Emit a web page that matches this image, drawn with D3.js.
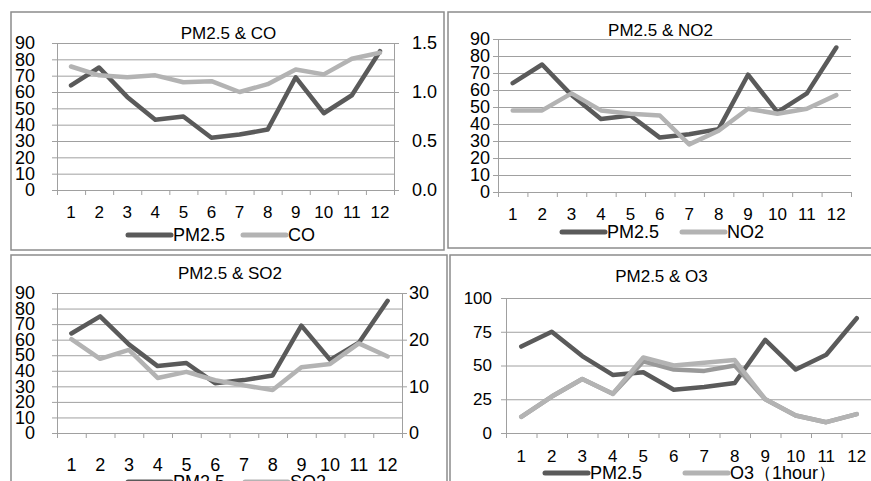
<!DOCTYPE html>
<html>
<head>
<meta charset="utf-8">
<script src="https://cdn.jsdelivr.net/npm/d3@7"></script>
<style>
  body { margin: 0; background: #fff; }
  svg { display: block; font-family: "Liberation Sans", Arial, sans-serif; }
</style>
</head>
<body>
<svg id="chart" width="871" height="481"></svg>
<script>
// data
const months = ["1","2","3","4","5","6","7","8","9","10","11","12"];
const pm25 = [64, 75, 57, 43, 45, 32, 34, 37, 69, 47, 58, 85];
const co   = [1.26, 1.17, 1.15, 1.17, 1.10, 1.11, 1.0, 1.08, 1.23, 1.18, 1.34, 1.40];
const no2  = [48, 48, 58, 48, 46, 45, 28, 36, 49, 46, 49, 57];
const so2  = [20.1, 15.9, 17.8, 11.8, 13.1, 11.3, 10.2, 9.2, 14.1, 14.8, 19.2, 16.4];
const o3   = [12, 27, 40, 29, 56, 50, 52, 54, 25, 13, 8, 14];
// second, unlabeled O3 trace that shows under the light one
const o3b  = [12, 27, 40, 29, 53, 47, 46, 50, 25, 13, 8, 14];

const pmTicks  = [0, 10, 20, 30, 40, 50, 60, 70, 80, 90];
const coTicks  = [0, 0.5, 1.0, 1.5];
const so2Ticks = [0, 10, 20, 30];
const o3Ticks  = [0, 25, 50, 75, 100];

const dark = "#5a5a5a", light = "#b3b3b3", mid = "#999999", grid = "#a0a0a0";
const font = "Liberation Sans, Arial, sans-serif";

const svg = d3.select("#chart");

const panels = [
  {title: "PM2.5 & CO", box: [11, 12, 433, 238], plot: {l: 57, r: 394, t: 43, b: 190},
   titleY: 39, xLabY: 218, xFont: 17, yFont: 18, leftPad: 17,
   left: {max: 90, ticks: pmTicks},
   right: {max: 1.5, ticks: coTicks, fmt: d3.format(".1f"), pad: 13},
   series: [{v: pm25, c: dark, s: "left"}, {v: co, c: light, s: "right"}],
   legend: {y: 235, items: [{n: "PM2.5", c: dark, x: 128}, {n: "CO", c: light, x: 243}]}},
  {title: "PM2.5 & NO2", box: [448, 12, 430, 236], plot: {l: 498, r: 851, t: 39, b: 192},
   titleY: 36, xLabY: 220, xFont: 17, yFont: 18, leftPad: 3,
   left: {max: 90, ticks: pmTicks},
   series: [{v: pm25, c: dark, s: "left"}, {v: no2, c: light, s: "left"}],
   legend: {y: 232, items: [{n: "PM2.5", c: dark, x: 562}, {n: "NO2", c: light, x: 682}]}},
  {title: "PM2.5 & SO2", box: [11, 255, 436, 240], plot: {l: 57, r: 402, t: 293, b: 433},
   titleY: 279, xLabY: 471, xFont: 18, yFont: 18, leftPad: 17,
   left: {max: 90, ticks: pmTicks},
   right: {max: 30, ticks: so2Ticks, fmt: d3.format("d"), pad: 2},
   series: [{v: pm25, c: dark, s: "left"}, {v: so2, c: light, s: "right"}],
   legend: {y: 482, items: [{n: "PM2.5", c: dark, x: 128}, {n: "SO2", c: light, x: 245}]}},
  {title: "PM2.5 & O3", box: [450, 255, 430, 240], plot: {l: 506, r: 872, t: 298, b: 433},
   titleY: 282, xLabY: 462, xFont: 17, yFont: 17, leftPad: 9,
   left: {max: 100, ticks: o3Ticks},
   series: [{v: pm25, c: dark, s: "left"}, {v: o3b, c: mid, s: "left"}, {v: o3, c: light, s: "left"}],
   legend: {y: 473, items: [{n: "PM2.5", c: dark, x: 545}, {n: "O3（1hour）", c: light, x: 685}]}}
];

panels.forEach(p => {
  const g = svg.append("g");
  const P = p.plot;

  g.append("rect")
    .attr("x", p.box[0]).attr("y", p.box[1])
    .attr("width", p.box[2]).attr("height", p.box[3])
    .attr("fill", "none").attr("stroke", "#8c8c8c").attr("stroke-width", 1.5);

  const x = d3.scaleBand().domain(months).range([P.l, P.r]);
  const xEdge = d3.scaleLinear().domain([0, 12]).range([P.l, P.r]);
  const yL = d3.scaleLinear().domain([0, p.left.max]).range([P.b, P.t]);
  const yR = p.right ? d3.scaleLinear().domain([0, p.right.max]).range([P.b, P.t]) : null;

  // gridlines
  g.append("g")
    .attr("transform", `translate(${P.l},0)`)
    .call(d3.axisLeft(yL).tickValues(p.left.ticks).tickSize(-(P.r - P.l)).tickFormat(""))
    .call(a => a.select(".domain").remove())
    .call(a => a.selectAll("line").attr("stroke", grid));

  // left axis
  g.append("g")
    .attr("transform", `translate(${P.l},0)`)
    .call(d3.axisLeft(yL).tickValues(p.left.ticks).tickSize(5).tickSizeOuter(0).tickPadding(p.leftPad))
    .call(a => a.select(".domain").attr("stroke", grid))
    .call(a => a.selectAll("line").attr("stroke", grid))
    .call(a => a.selectAll("text").attr("font-size", p.yFont).attr("fill", "#000").attr("font-family", font));

  if (p.right) {
    g.append("g")
      .attr("transform", `translate(${P.r},0)`)
      .call(d3.axisRight(yR).tickValues(p.right.ticks).tickSize(5).tickSizeOuter(0)
        .tickPadding(p.right.pad).tickFormat(p.right.fmt))
      .call(a => a.select(".domain").attr("stroke", grid))
      .call(a => a.selectAll("line").attr("stroke", grid))
      .call(a => a.selectAll("text").attr("font-size", 18).attr("fill", "#000").attr("font-family", font));
  }

  // x axis line + ticks at band edges
  g.append("g")
    .attr("transform", `translate(0,${P.b})`)
    .call(d3.axisBottom(xEdge).ticks(12).tickSize(5).tickSizeOuter(0).tickFormat(""))
    .call(a => a.select(".domain").attr("stroke", grid))
    .call(a => a.selectAll("line").attr("stroke", grid));

  // x labels
  g.append("g")
    .attr("transform", `translate(0,${p.xLabY})`)
    .call(d3.axisBottom(x).tickSize(0).tickPadding(0))
    .call(a => a.select(".domain").remove())
    .call(a => a.selectAll("text").attr("dy", 0).attr("font-size", p.xFont).attr("fill", "#000").attr("font-family", font));

  // lines
  p.series.forEach(s => {
    const y = s.s === "right" ? yR : yL;
    const line = d3.line()
      .x((d, i) => x(months[i]) + x.bandwidth() / 2)
      .y(d => y(d));
    g.append("path")
      .datum(s.v)
      .attr("d", line)
      .attr("fill", "none")
      .attr("stroke", s.c)
      .attr("stroke-width", 4.5)
      .attr("stroke-linejoin", "round")
      .attr("stroke-linecap", "round");
  });

  // title
  g.append("text")
    .attr("x", (p.box[0] + Math.min(p.box[0] + p.box[2], 871)) / 2 + 1)
    .attr("y", p.titleY)
    .attr("text-anchor", "middle")
    .attr("font-size", 17)
    .text(p.title);

  // legend
  p.legend.items.forEach(it => {
    g.append("line")
      .attr("x1", it.x).attr("x2", it.x + 43)
      .attr("y1", p.legend.y).attr("y2", p.legend.y)
      .attr("stroke", it.c).attr("stroke-width", 5).attr("stroke-linecap", "round");
    g.append("text")
      .attr("x", it.x + 45).attr("y", p.legend.y)
      .attr("dy", "0.36em")
      .attr("font-size", 18)
      .text(it.n);
  });
});
</script>
</body>
</html>
